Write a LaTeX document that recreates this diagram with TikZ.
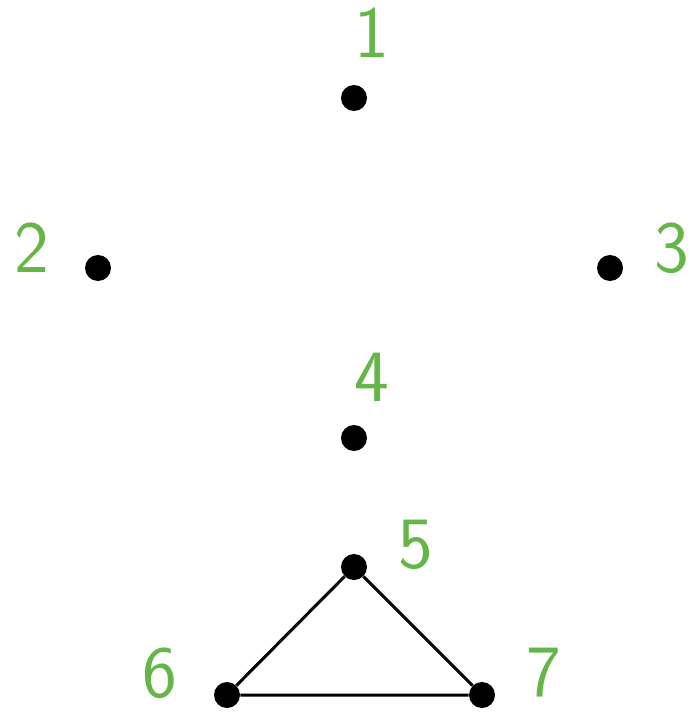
\documentclass[tikz,border=0pt]{standalone}
\definecolor{lblgreen}{RGB}{100,182,72}
\tikzset{
  vtx/.style={circle,fill=black,inner sep=0pt,minimum size=0.52cm},
  lbl/.style={text=lblgreen,font=\sffamily\fontsize{42}{48}\selectfont,inner sep=0pt},
  edge/.style={draw=black,line width=1.7pt}
}
\begin{document}
\begin{tikzpicture}[x=0.02cm,y=-0.02cm]
\useasboundingbox (0,0) rectangle (689,713);
\node[vtx] (v1) at (354,98) {};
\node[vtx] (v2) at (98,268) {};
\node[vtx] (v3) at (610,268) {};
\node[vtx] (v4) at (354,438) {};
\node[vtx] (v5) at (354,567) {};
\node[vtx] (v6) at (227,695) {};
\node[vtx] (v7) at (482,695) {};
\node[lbl] (l1) at (372,33) {1};
\node[lbl] (l2) at (32,248) {2};
\node[lbl] (l3) at (672,248) {3};
\node[lbl] (l4) at (372,377) {4};
\node[lbl] (l5) at (416,545) {5};
\node[lbl] (l6) at (160,673) {6};
\node[lbl] (l7) at (544,673) {7};
\draw[edge] (v5) -- (v6) -- (v7) -- (v5);
\end{tikzpicture}
\end{document}
